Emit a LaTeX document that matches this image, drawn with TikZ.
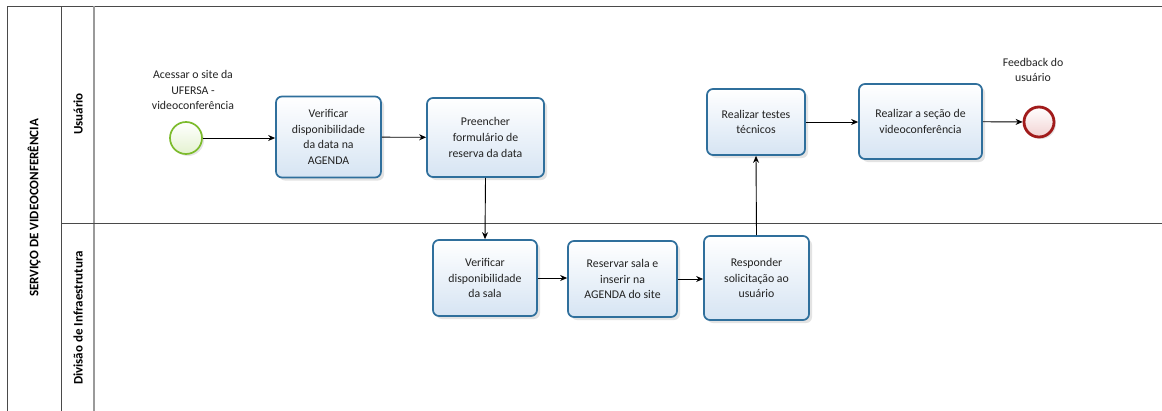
\documentclass[tikz,border=0pt]{standalone}
\usepackage{fontspec}
\setmainfont{Carlito}
\usetikzlibrary{arrows.meta,shadows}
\definecolor{taskline}{HTML}{2F6F9C}
\definecolor{taskfill}{HTML}{D6E4F3}
\definecolor{startline}{HTML}{7CBB2C}
\definecolor{startfill}{HTML}{E4F2D0}
\definecolor{endline}{HTML}{A11B1B}
\definecolor{endfill}{HTML}{F2D2D2}
\definecolor{poolline}{HTML}{4A4A4A}
\definecolor{laneline}{HTML}{9A9A9A}
\definecolor{labeltext}{HTML}{222222}
\begin{document}
\begin{tikzpicture}[x=1pt,y=-1pt,
  task/.style={draw=taskline, line width=1.7pt, rounded corners=6pt,
    top color=white, bottom color=taskfill, text=labeltext,
    drop shadow={shadow xshift=3pt, shadow yshift=-3pt, opacity=0.22, fill=gray},
    align=center, font=\fontsize{11.8}{15.8}\selectfont, inner sep=0pt},
  startev/.style={circle, draw=startline, line width=1.7pt, minimum size=32pt,
    inner sep=0pt, top color=white, bottom color=startfill,
    drop shadow={shadow xshift=2pt, shadow yshift=-2pt, opacity=0.2, fill=gray}},
  endev/.style={circle, draw=endline, line width=2.8pt, minimum size=30pt,
    inner sep=0pt, top color=white, bottom color=endfill,
    drop shadow={shadow xshift=2pt, shadow yshift=-2pt, opacity=0.2, fill=gray}},
  evlabel/.style={align=center, text=labeltext, font=\fontsize{11.8}{15.8}\selectfont, inner sep=0pt},
  flow/.style={draw=black, line width=0.9pt, -{Stealth[length=7pt,width=6pt]}},
  lanetitle/.style={rotate=90, font=\fontsize{13}{15}\selectfont\bfseries, inner sep=0pt}
]
% canvas
\fill[white] (0,0) rectangle (1162,410);
\useasboundingbox (0,0) rectangle (1162,410);

% pool and lanes
\draw[poolline, line width=1pt] (1162,6) -- (7,6) -- (7,412);
\draw[poolline, line width=1pt] (61,6) -- (61,412);
\draw[laneline, line width=1.6pt] (94,6) -- (94,412);
\draw[poolline, line width=1pt] (61,223) -- (1162,223);

\node[lanetitle] (pool) at (34,208) {SERVIÇO DE VIDEOCONFERÊNCIA};
\node[lanetitle] (laneA) at (78,114) {Usuário};
\node[lanetitle] (laneB) at (78,318) {Divisão de Infraestrutura};

% user lane
\node[startev] (start) at (186,138) {};
\node[evlabel] (startlbl) at (193,90) {Acessar o site da\\UFERSA -\\videoconferência};
\node[task, minimum width=105pt, minimum height=81pt] (t1) at (328.5,137) {Verificar\\disponibilidade\\da data na\\AGENDA};
\node[task, minimum width=117pt, minimum height=79pt] (t2) at (485.5,137.5) {Preencher\\formulário de\\reserva da data};
\node[task, minimum width=98pt, minimum height=66pt] (t3) at (756,122) {Realizar testes\\técnicos};
\node[task, minimum width=123pt, minimum height=75pt] (t4) at (920.5,121.5) {Realizar a seção de\\videoconferência};
\node[endev] (end) at (1039,122) {};
\node[evlabel] (endlbl) at (1033,70) {Feedback do\\usuário};

% infrastructure lane
\node[task, minimum width=104pt, minimum height=76pt] (t5) at (485,278) {Verificar\\disponibilidade\\da sala};
\node[task, minimum width=109pt, minimum height=76pt] (t6) at (622.5,279) {Reservar sala e\\inserir na\\AGENDA do site};
\node[task, minimum width=105pt, minimum height=84pt] (t7) at (756.5,278) {Responder\\solicitação ao\\usuário};

% sequence flows
\draw[flow] (start) -- (t1.west |- start);
\draw[flow] (t1) -- (t2);
\draw[flow] (t2.south) -- (t5.north);
\draw[flow] (t5) -- (t6.west |- t5);
\draw[flow] (t6) -- (t7.west |- t6);
\draw[flow] (t7.north) -- (t3.south);
\draw[flow] (t3) -- (t4.west |- t3);
\draw[flow] (t4) -- (end);
\end{tikzpicture}
\end{document}
